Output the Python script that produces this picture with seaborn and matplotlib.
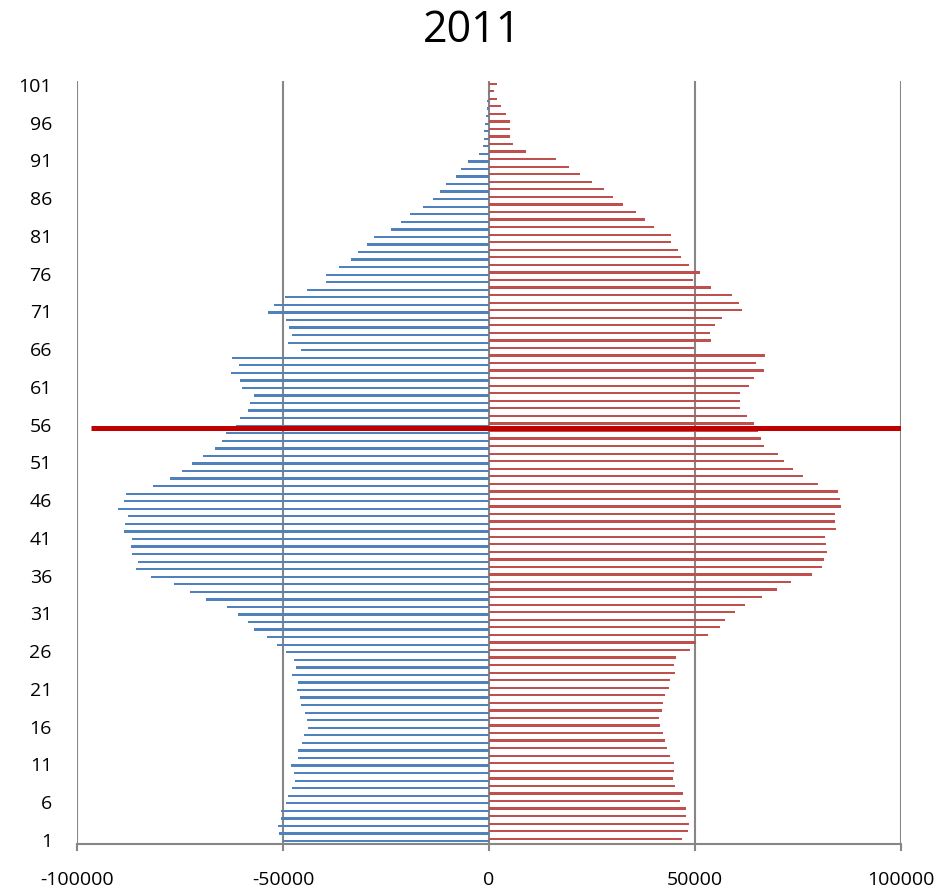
import numpy as np
import pandas as pd
import matplotlib
matplotlib.use('Agg')
import matplotlib.pyplot as plt
import seaborn as sns

ages = list(range(1, 102))

# male, ages 1..101 (plotted to the left, negative)
male = [-50000, -50900, -51100, -50400, -50500, -49300, -48800, -47900, -47200, -47400,
        -48000, -46400, -46300, -45500, -45000, -44000, -44100, -44600, -45700, -45800,
        -46500, -46300, -47700, -46800, -47300, -49200, -51500, -53800, -57000, -58500,
        -60900, -63500, -68800, -72600, -76400, -82100, -85600, -85200, -86600, -87000,
        -86600, -88700, -88400, -87500, -90000, -88600, -88100, -81500, -77400, -74400,
        -72000, -69300, -66400, -64800, -63800, -61300, -60400, -58500, -57900, -57100,
        -60000, -60400, -62600, -60600, -62500, -45600, -48700, -47800, -48600, -49300,
        -53700, -52100, -49500, -44200, -39500, -39500, -36500, -33500, -31700, -29600,
        -27800, -23700, -21300, -19100, -16100, -13700, -11900, -10400, -8000, -6800,
        -5200, -2500, -1460, -1130, -1130, -970, -730, -570, -400, -200,
        -100]

# female, ages 1..101 (plotted to the right)
female = [46800, 48300, 48600, 47700, 47900, 46400, 47100, 45200, 44700, 45000,
          45000, 44000, 43200, 42800, 42200, 41600, 41300, 41900, 42300, 42600,
          43700, 44000, 45100, 44800, 45400, 48900, 50200, 53200, 56100, 57400,
          59600, 62100, 66300, 69800, 73200, 78400, 80900, 81300, 82100, 81900,
          81500, 84200, 83900, 84000, 85400, 85100, 84600, 79900, 76300, 73800,
          71600, 70200, 66800, 66100, 65200, 64200, 62600, 60900, 61000, 60900,
          63200, 64300, 66800, 64900, 67000, 49700, 53900, 53600, 54900, 56600,
          61400, 60700, 59000, 53800, 49600, 51200, 48600, 46700, 45900, 44200,
          44200, 40100, 37800, 35600, 32600, 30200, 27900, 25100, 22000, 19500,
          16200, 9100, 5800, 5000, 5000, 5000, 4050, 2900, 2000, 1300,
          1900]

# red marker line
marker_age = 55.5
marker_from = -96700
marker_to = 100000

x_ticks = [-100000, -50000, 0, 50000, 100000]
y_tick_ages = list(range(1, 102, 5))

# ---------- long form table ----------
df = pd.DataFrame({
    'age': ages * 2,
    'pop': male + female,
    'sex': ['M'] * len(ages) + ['F'] * len(ages),
})
age_order = ages[::-1]   # 101 at top

# ---------- plot ----------
sns.set_style('white')
plt.rcParams['font.family'] = ['Open Sans', 'DejaVu Sans']
plt.rcParams['text.color'] = 'black'
plt.rcParams['xtick.labelcolor'] = 'black'
plt.rcParams['ytick.labelcolor'] = 'black'

fig = plt.figure(figsize=(9.44, 8.91), dpi=100)
ax = fig.add_axes([77 / 944, 1 - 843.7 / 891, (901 - 77) / 944, (843.7 - 81) / 891])

grid_col = '#868686'
for xv in x_ticks:
    ax.axvline(xv, color=grid_col, lw=1.5, zorder=0)

sns.barplot(
    data=df, y='age', x='pop', hue='sex', orient='h',
    order=age_order, hue_order=['F', 'M'],
    palette={'M': '#4F81BD', 'F': '#C0504D'},
    width=0.6, dodge=True, ax=ax, legend=False, zorder=2,
    linewidth=0, saturation=1,
)

# marker line, converted to the categorical position
pos = age_order.index(56) + (56 - marker_age)
ax.plot([marker_from, marker_to], [pos, pos], color='#C00000', lw=3.6,
        solid_capstyle='butt', zorder=3)

ax.set_xlim(-100000, 100000)
ax.set_ylim(len(ages) - 0.5, -0.5)
ax.set_xticks(x_ticks)
ax.set_xticklabels([str(v) for v in x_ticks])
ax.set_yticks([age_order.index(a) for a in y_tick_ages])
ax.set_yticklabels([str(a) for a in y_tick_ages])
ax.set_xlabel('')
ax.set_ylabel('')

for s in ['top', 'right', 'left']:
    ax.spines[s].set_visible(False)
ax.spines['bottom'].set_color(grid_col)
ax.spines['bottom'].set_linewidth(1.5)
ax.tick_params(axis='x', length=5, width=1.5, color=grid_col, pad=15,
               labelsize=14, labelcolor='black', direction='out', bottom=True)
ax.tick_params(axis='y', length=0, pad=18, labelsize=14, labelcolor='black')

fig.text(0.5, 1 - 31 / 891, '2011', ha='center', va='center', fontsize=31,
         color='black')

fig.savefig('out.png', dpi=100)
